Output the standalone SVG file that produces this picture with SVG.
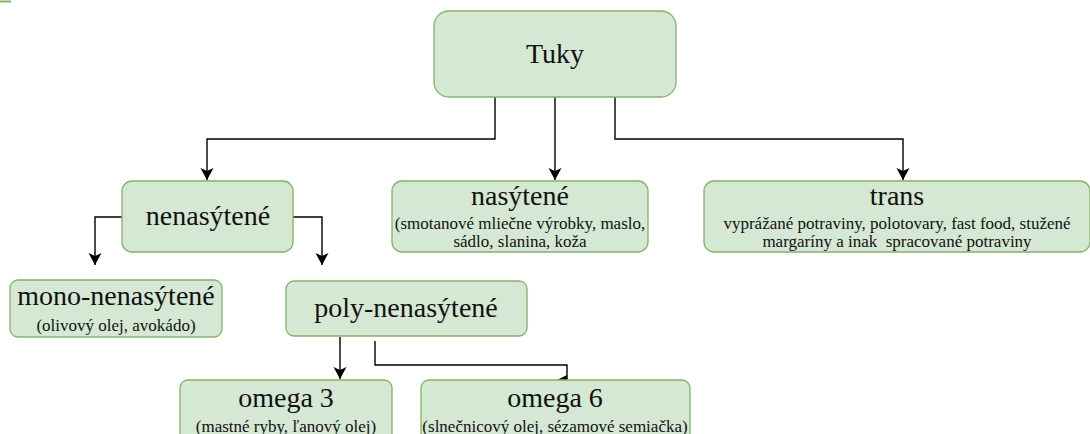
<svg xmlns="http://www.w3.org/2000/svg" width="1090" height="434" viewBox="0 0 1090 434">
  <style>
    .node rect { fill: #d5e8d4; stroke: #82b366; stroke-width: 1.3; }
    .title { font-family: "Liberation Serif", "Times New Roman", serif; font-size: 28px; fill: #111; text-anchor: middle; }
    .sub { font-family: "Liberation Serif", "Times New Roman", serif; font-size: 17px; fill: #111; text-anchor: middle; white-space: pre; }
    .edge { fill: none; stroke: #000; stroke-width: 1.4; }
  </style>
  <defs>
    <marker id="arr" markerUnits="userSpaceOnUse" markerWidth="14" markerHeight="14" refX="12" refY="6.5" orient="auto">
      <path d="M0,0 L12,6.5 L0,13 L3,6.5 Z" fill="#000"/>
    </marker>
  </defs>
  <rect width="1090" height="434" fill="#fff"/>
  <line x1="0" y1="1.5" x2="11" y2="1.5" stroke="#82b366" stroke-width="2"/>

  <g id="connectors">
    <path class="edge" d="M495,97 V139 H207 V180" marker-end="url(#arr)"/>
    <path class="edge" d="M555,97 V180" marker-end="url(#arr)"/>
    <path class="edge" d="M615,97 V139 H903 V180" marker-end="url(#arr)"/>
    <path class="edge" d="M122,217 H95 V265" marker-end="url(#arr)"/>
    <path class="edge" d="M293,217 H322 V265" marker-end="url(#arr)"/>
    <path class="edge" d="M340,337 V379" marker-end="url(#arr)"/>
    <path class="edge" d="M375,341 V365 H567 V380"/>
    <polygon points="557,380 567,375 567,380" fill="#000"/>
  </g>

  <g id="tuky" class="node">
    <rect x="434" y="11" width="242" height="86" rx="15"/>
    <text class="title" x="555" y="63">Tuky</text>
  </g>
  <g id="nenasytene" class="node">
    <rect x="122" y="181" width="171" height="71" rx="10"/>
    <text class="title" x="208" y="225">nenasýtené</text>
  </g>
  <g id="nasytene" class="node">
    <rect x="392" y="181" width="256" height="71" rx="10"/>
    <text class="title" x="520" y="205">nasýtené</text>
    <text class="sub" x="520" y="229">(smotanové mliečne výrobky, maslo,</text>
    <text class="sub" x="520" y="247">sádlo, slanina, koža</text>
  </g>
  <g id="trans" class="node">
    <rect x="704" y="181" width="386" height="71" rx="10"/>
    <text class="title" x="897" y="205">trans</text>
    <text class="sub" x="897" y="229">vyprážané potraviny, polotovary, fast food, stužené</text>
    <text class="sub" x="897" y="247" xml:space="preserve">margaríny a inak  spracované potraviny</text>
  </g>
  <g id="mono" class="node">
    <rect x="10" y="280" width="212" height="57" rx="8"/>
    <text class="title" x="116" y="305">mono-nenasýtené</text>
    <text class="sub" x="116" y="331">(olivový olej, avokádo)</text>
  </g>
  <g id="poly" class="node">
    <rect x="286" y="281" width="241" height="55" rx="8"/>
    <text class="title" x="406" y="317">poly-nenasýtené</text>
  </g>
  <g id="omega3" class="node">
    <rect x="180" y="380" width="212" height="62" rx="8"/>
    <text class="title" x="286" y="407">omega 3</text>
    <text class="sub" x="286" y="432">(mastné ryby, ľanový olej)</text>
  </g>
  <g id="omega6" class="node">
    <rect x="421" y="380" width="269" height="62" rx="8"/>
    <text class="title" x="555" y="407">omega 6</text>
    <text class="sub" x="555" y="432">(slnečnicový olej, sézamové semiačka)</text>
  </g>
</svg>
